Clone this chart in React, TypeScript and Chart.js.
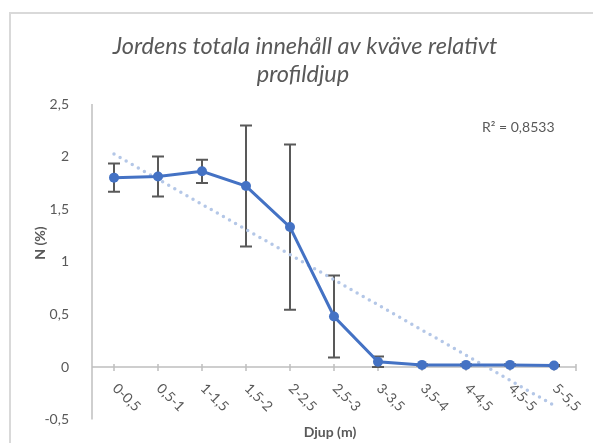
import React, { useEffect, useRef } from "react";
import { Chart, registerables } from "chart.js";

Chart.register(...registerables);

// Soil nitrogen content by depth interval
const depthLabels = ["0-0,5", "0,5-1", "1-1,5", "1,5-2", "2-2,5", "2,5-3", "3-3,5", "3,5-4", "4-4,5", "4,5-5", "5-5,5"];
const nitrogen = [1.8, 1.81, 1.86, 1.72, 1.33, 0.48, 0.05, 0.02, 0.02, 0.02, 0.015];
const nitrogenError = [0.135, 0.19, 0.11, 0.575, 0.785, 0.39, 0.05, 0.005, 0.005, 0.005, 0.005];
const yTickValues = [-0.5, 0, 0.5, 1, 1.5, 2, 2.5];
const yTickLabels = ["-0,5", "0", "0,5", "1", "1,5", "2", "2,5"];

const titleLines = ["Jordens totala innehåll av kväve relativt", "profildjup"];
const yTitle = "N (%)";
const xTitle = "Djup (m)";
const rSquaredLabel = "R² = 0,8533";

const FONT = "Lato, Carlito, Calibri, 'Open Sans', sans-serif";
const TEXT = "#595959";
const AXIS = "#bfbfbf";
const LINE = "#4472C4";
const TREND = "#b4c7e7";

// Least-squares linear trend over the category index
function linearTrend(values: number[]): number[] {
  const n = values.length;
  const xs = values.map((_, i) => i + 1);
  const mx = xs.reduce((a, b) => a + b, 0) / n;
  const my = values.reduce((a, b) => a + b, 0) / n;
  let sxy = 0;
  let sxx = 0;
  xs.forEach((x, i) => {
    sxy += (x - mx) * (values[i] - my);
    sxx += (x - mx) * (x - mx);
  });
  const slope = sxy / sxx;
  const intercept = my - slope * mx;
  return xs.map((x) => intercept + slope * x);
}

const decorations = {
  id: "decorations",
  beforeDraw(chart: any) {
    const { ctx } = chart;
    ctx.save();
    ctx.fillStyle = "#ffffff";
    ctx.fillRect(0, 0, chart.width, chart.height);
    // outer frame
    ctx.fillStyle = "#d9d9d9";
    ctx.fillRect(9, 12, chart.width - 9, 2);
    ctx.fillRect(9, 12, 2, chart.height - 12);
    ctx.restore();
  },
  beforeDatasetsDraw(chart: any) {
    const { ctx, chartArea } = chart;
    const x = chart.scales.x;
    const y = chart.scales.y;
    const y0 = y.getPixelForValue(0);
    ctx.save();
    // value axis line
    ctx.strokeStyle = AXIS;
    ctx.lineWidth = 1.5;
    ctx.beginPath();
    ctx.moveTo(chartArea.left, chartArea.top);
    ctx.lineTo(chartArea.left, chartArea.bottom);
    ctx.stroke();
    // category axis crossing at zero
    ctx.beginPath();
    ctx.moveTo(chartArea.left, y0);
    ctx.lineTo(chartArea.right, y0);
    const tickXs = depthLabels.map((_, i) => x.getPixelForValue(i));
    tickXs.push(chartArea.right);
    tickXs.forEach((tx) => {
      ctx.moveTo(tx, y0 - 3);
      ctx.lineTo(tx, y0 + 4);
    });
    ctx.stroke();

    // error bars
    ctx.strokeStyle = TEXT;
    ctx.lineWidth = 2;
    nitrogen.forEach((v, i) => {
      const px = x.getPixelForValue(i);
      const top = y.getPixelForValue(v + nitrogenError[i]);
      const bot = y.getPixelForValue(v - nitrogenError[i]);
      ctx.beginPath();
      ctx.moveTo(px, top);
      ctx.lineTo(px, bot);
      ctx.moveTo(px - 6, top);
      ctx.lineTo(px + 6, top);
      ctx.moveTo(px - 6, bot);
      ctx.lineTo(px + 6, bot);
      ctx.stroke();
    });
    ctx.restore();
  },
  afterDraw(chart: any) {
    const { ctx, chartArea } = chart;
    const x = chart.scales.x;
    const y = chart.scales.y;
    const y0 = y.getPixelForValue(0);
    ctx.save();
    ctx.fillStyle = TEXT;

    // category labels, slanted downwards
    ctx.font = `14px ${FONT}`;
    ctx.textAlign = "left";
    ctx.textBaseline = "middle";
    depthLabels.forEach((lab, i) => {
      const px = x.getPixelForValue(i);
      ctx.save();
      ctx.translate(px + 1, y0 + 19);
      ctx.rotate(Math.PI / 4);
      ctx.fillText(lab, 0, 0);
      ctx.restore();
    });

    // title
    ctx.font = `italic 23.5px ${FONT}`;
    ctx.textAlign = "center";
    ctx.textBaseline = "alphabetic";
    ctx.fillText(titleLines[0], 305, 54);
    ctx.fillText(titleLines[1], 303, 82);

    // axis titles
    ctx.font = `bold 14px ${FONT}`;
    ctx.textBaseline = "middle";
    ctx.fillText(xTitle, (chartArea.left + chartArea.right) / 2 - 4, 432);
    ctx.save();
    ctx.translate(40, 243);
    ctx.rotate(-Math.PI / 2);
    ctx.fillText(yTitle, 0, 0);
    ctx.restore();

    // trend fit label
    ctx.font = `14px ${FONT}`;
    ctx.textAlign = "left";
    ctx.fillText(rSquaredLabel, 482, 127);
    ctx.restore();
  },
};

export default function App() {
  const canvasRef = useRef<HTMLCanvasElement | null>(null);

  useEffect(() => {
    if (!canvasRef.current) return;
    const chart = new Chart(canvasRef.current, {
      type: "line",
      data: {
        labels: depthLabels,
        datasets: [
          {
            label: "N (%)",
            data: nitrogen,
            borderColor: LINE,
            backgroundColor: LINE,
            borderWidth: 3,
            pointRadius: 5,
            pointBackgroundColor: LINE,
            pointBorderWidth: 0,
            tension: 0,
          },
          {
            label: "Linjär trend",
            data: linearTrend(nitrogen),
            borderColor: TREND,
            borderWidth: 3.5,
            borderDash: [0, 7],
            borderCapStyle: "round",
            pointRadius: 0,
            tension: 0,
          },
        ],
      },
      options: {
        responsive: false,
        animation: false,
        layout: { padding: { left: 22, top: 104, right: 17, bottom: 23 } },
        plugins: {
          legend: { display: false },
          tooltip: { enabled: false },
          title: { display: false },
        },
        scales: {
          x: {
            type: "category",
            display: false,
            offset: true,
          },
          y: {
            min: yTickValues[0],
            max: yTickValues[yTickValues.length - 1],
            grid: { display: false },
            border: { display: false },
            afterFit: (scale: any) => {
              scale.width = 70;
            },
            afterBuildTicks: (scale: any) => {
              scale.ticks = yTickValues.map((value) => ({ value }));
            },
            ticks: {
              padding: 15,
              color: TEXT,
              font: { family: FONT, size: 14 },
              callback: (_v: any, i: number) => yTickLabels[i],
            },
          },
        },
      },
      plugins: [decorations],
    });
    return () => chart.destroy();
  }, []);

  return (
    <div style={{ position: "fixed", left: 0, top: 0, width: 593, height: 443, background: "#fff" }}>
      <canvas ref={canvasRef} width={593} height={443} style={{ display: "block" }} />
    </div>
  );
}
